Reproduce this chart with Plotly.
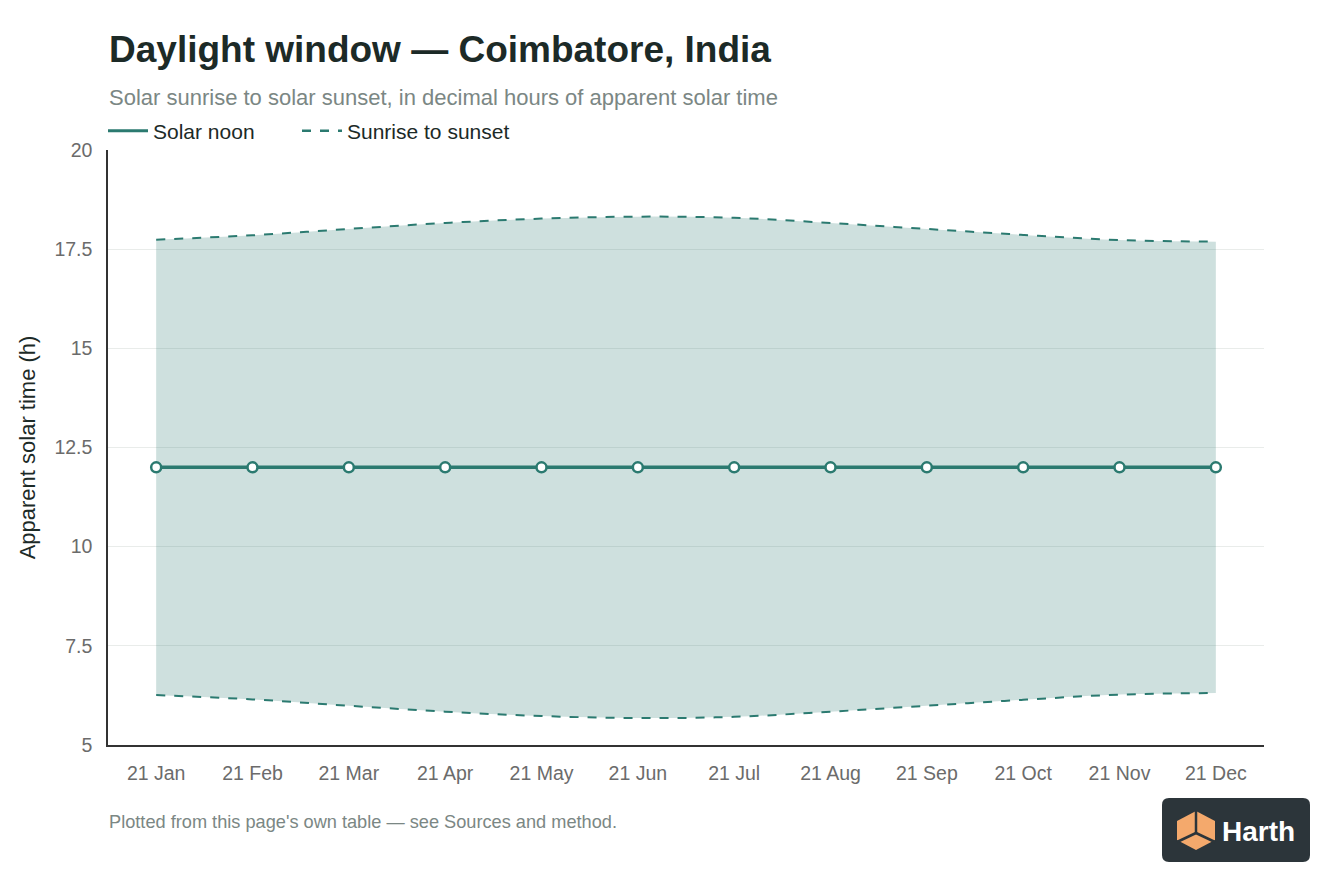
import plotly.graph_objects as go

months = ["21 Jan", "21 Feb", "21 Mar", "21 Apr", "21 May", "21 Jun",
          "21 Jul", "21 Aug", "21 Sep", "21 Oct", "21 Nov", "21 Dec"]
solar_noon = [12.0] * 12
sunrise = [6.26, 6.15, 5.99, 5.84, 5.73, 5.68, 5.71, 5.84, 5.99, 6.14, 6.27, 6.31]
sunset = [17.74, 17.85, 18.01, 18.16, 18.27, 18.32, 18.29, 18.16, 18.01, 17.86, 17.73, 17.69]

TEAL = "#2b7a70"
FILL = "rgba(43,122,112,0.23)"
FONT = "Liberation Sans, Arial, Helvetica, sans-serif"

# page offset (body margin) and plot area in figure pixels
OFF = 8
W, H = 1344, 896
L, R, T, B = 100, 1256, 142, 737


def px(x):
    return (x - OFF - L) / (R - L)


def py(y):
    return (B - (y - OFF)) / (B - T)


fig = go.Figure()

fig.add_trace(go.Scatter(
    x=months, y=sunrise, mode="lines", line=dict(color=TEAL, width=2, dash="dash", shape="spline"),
    showlegend=False, hoverinfo="skip"))
fig.add_trace(go.Scatter(
    x=months, y=sunset, mode="lines", line=dict(color=TEAL, width=2, dash="dash", shape="spline"),
    fill="tonexty", fillcolor=FILL, name="Sunrise to sunset", showlegend=False))
fig.add_trace(go.Scatter(
    x=months, y=solar_noon, mode="lines+markers", name="Solar noon",
    line=dict(color=TEAL, width=3.5),
    marker=dict(size=10, color="white", line=dict(color=TEAL, width=2.5)),
    showlegend=False))
# legend entries (lines only)
fig.add_trace(go.Scatter(x=[None], y=[None], mode="lines", name="Solar noon",
                         line=dict(color=TEAL, width=3), legend="legend"))
fig.add_trace(go.Scatter(x=[None], y=[None], mode="lines", name="Sunrise to sunset",
                         line=dict(color=TEAL, width=2.5, dash="dash"), legend="legend2"))

shapes = []
# logo background (rounded rectangle)
x0, x1, y0, y1, r = 1162, 1310, 798, 862, 7
path = (f"M {px(x0 + r)},{py(y0)} L {px(x1 - r)},{py(y0)} "
        f"Q {px(x1)},{py(y0)} {px(x1)},{py(y0 + r)} L {px(x1)},{py(y1 - r)} "
        f"Q {px(x1)},{py(y1)} {px(x1 - r)},{py(y1)} L {px(x0 + r)},{py(y1)} "
        f"Q {px(x0)},{py(y1)} {px(x0)},{py(y1 - r)} L {px(x0)},{py(y0 + r)} "
        f"Q {px(x0)},{py(y0)} {px(x0 + r)},{py(y0)} Z")
shapes.append(dict(type="path", xref="paper", yref="paper", path=path,
                   fillcolor="#2c353a", line=dict(width=0), layer="above"))
# cube icon
hexpts = [(1196, 811), (1215, 821), (1215, 840), (1196, 850), (1177, 840), (1177, 821)]
hpath = "M " + " L ".join(f"{px(a)},{py(b)}" for a, b in hexpts) + " Z"
shapes.append(dict(type="path", xref="paper", yref="paper", path=hpath,
                   fillcolor="#f4a96c", line=dict(width=0), layer="above"))
for (a, b), (c, d) in [((1196, 811), (1196, 833)), ((1196, 833), (1177, 842)), ((1196, 833), (1215, 842))]:
    shapes.append(dict(type="line", xref="paper", yref="paper", x0=px(a), y0=py(b), x1=px(c), y1=py(d),
                       line=dict(color="#2c353a", width=2.5), layer="above"))

annotations = [
    dict(text="Daylight window — Coimbatore, India", x=px(107), y=py(50), xref="paper", yref="paper",
         xanchor="left", yanchor="middle", showarrow=False,
         font=dict(family=FONT, size=37, color="#1c2a27", weight="bold")),
    dict(text="Solar sunrise to solar sunset, in decimal hours of apparent solar time", x=px(107), y=py(97),
         xref="paper", yref="paper", xanchor="left", yanchor="middle", showarrow=False,
         font=dict(family=FONT, size=22, color="#7b8784")),
    dict(text="Plotted from this page's own table — see Sources and method.", x=px(107), y=py(822),
         xref="paper", yref="paper", xanchor="left", yanchor="middle", showarrow=False,
         font=dict(family=FONT, size=18.2, color="#7b8784")),
    dict(text="<b>Harth</b>", x=px(1220), y=py(831), xref="paper", yref="paper",
         xanchor="left", yanchor="middle", showarrow=False,
         font=dict(family=FONT, size=28, color="white")),
]

legend_common = dict(orientation="h", xanchor="left", yanchor="middle", y=py(131),
                     font=dict(family=FONT, size=21, color="#1c2a27"), itemwidth=40,
                     bgcolor="rgba(0,0,0,0)")

fig.update_layout(
    width=W, height=H,
    margin=dict(l=L, r=W - R, t=T, b=H - B),
    paper_bgcolor="white", plot_bgcolor="white",
    font=dict(family=FONT, color="#333"),
    showlegend=True,
    legend=dict(x=px(103), **legend_common),
    legend2=dict(x=px(297), **legend_common),
    xaxis=dict(type="category", range=[-0.5, 11.5], showgrid=False, showline=True,
               linecolor="#333", linewidth=1.5, ticks="", tickfont=dict(family=FONT, size=19.5, color="#6b6b6b"),
               ticklabelstandoff=10, fixedrange=True),
    yaxis=dict(range=[5, 20], tick0=5, dtick=2.5, showgrid=True, gridcolor="#e9ecea", gridwidth=1,
               showline=True, linecolor="#333", linewidth=1.5, ticks="", zeroline=False,
               tickfont=dict(family=FONT, size=19.5, color="#6b6b6b"), ticklabelstandoff=10,
               title=dict(text="Apparent solar time (h)", standoff=13,
                          font=dict(family=FONT, size=22, color="#1c2a27"))),
    shapes=shapes,
    annotations=annotations,
    hovermode="x unified",
)

fig.write_html("out.html")
